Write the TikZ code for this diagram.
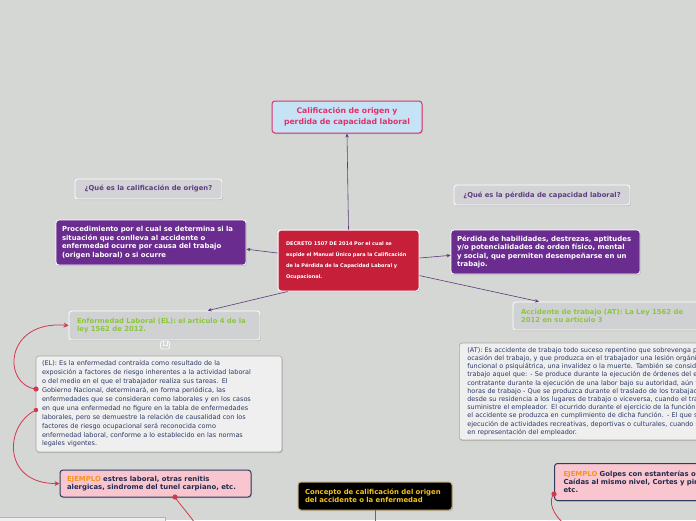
\documentclass[tikz,border=0pt]{standalone}
\usepackage{fontspec}
\setmainfont{DejaVu Sans}
\usetikzlibrary{shadows,arrows.meta}
\definecolor{bg}{RGB}{213,215,212}
\definecolor{qfill}{RGB}{211,211,215}
\definecolor{qtext}{RGB}{94,63,127}
\definecolor{purp}{RGB}{106,44,143}
\definecolor{decred}{RGB}{198,31,58}
\definecolor{tfill}{RGB}{198,226,245}
\definecolor{tpink}{RGB}{224,50,106}
\definecolor{lgreen}{RGB}{140,198,63}
\definecolor{lfill}{RGB}{208,209,211}
\definecolor{txfill}{RGB}{239,239,239}
\definecolor{txtext}{RGB}{43,58,103}
\definecolor{ejfill}{RGB}{249,198,208}
\definecolor{ejborder}{RGB}{47,60,94}
\definecolor{ejorange}{RGB}{247,148,29}
\definecolor{ejtext}{RGB}{31,43,77}
\definecolor{cborder}{RGB}{191,167,122}
\definecolor{cyellow}{RGB}{242,195,24}
\definecolor{redline}{RGB}{210,56,79}
\definecolor{purline}{RGB}{91,58,122}
\tikzset{
  box/.style={rounded corners=3pt, inner ysep=0pt, align=left,
    drop shadow={opacity=0.35, shadow xshift=0.8pt, shadow yshift=-1.2pt}},
  qbox/.style={box, fill=qfill, draw=white, line width=0.8pt, text=qtext, align=center,
    font=\bfseries\fontsize{6.8}{8}\selectfont},
  pbox/.style={box, fill=purp, draw=white, line width=0.8pt, text=white,
    font=\bfseries\fontsize{6.9}{8.7}\selectfont},
  lbox/.style={box, fill=lfill, draw=white, line width=0.8pt, text=lgreen,
    font=\bfseries\fontsize{6.9}{8.2}\selectfont},
  txbox/.style={box, fill=txfill, draw=gray!70, line width=0.6pt, text=txtext,
    font=\fontsize{6.5}{8.9}\selectfont},
  ejbox/.style={box, fill=ejfill, draw=ejborder, line width=1pt, text=ejtext,
    font=\bfseries\fontsize{6.9}{8.3}\selectfont},
  pconn/.style={draw=purline, line width=0.6pt, -{Stealth[length=4pt,width=3.5pt]}},
  rconn/.style={draw=redline, line width=0.8pt, -{Stealth[length=5pt,width=5pt]}},
  rplain/.style={draw=redline, line width=0.8pt},
  rdot/.style={fill=redline, draw=none},
}
\begin{document}
\begin{tikzpicture}[x=1pt,y=-1pt]
\clip (0,0) rectangle (696,520);
\fill[bg] (0,0) rectangle (696,520);

% bottom-left partial box
\draw[fill=txfill, draw=gray!60] (-5,517) rectangle (165,540);

% nodes
\node[box, fill=tfill, draw=tpink, line width=1pt, text=tpink, align=center,
  minimum width=150, minimum height=32, text width=140, inner xsep=5pt,
  font=\bfseries\fontsize{7.7}{11}\selectfont] (title) at (347,117)
  {Calificación de origen y\\ perdida de capacidad laboral};

\node[qbox, minimum width=147, minimum height=20] (q1) at (148.5,189)
  {¿Qué es la calificación de origen?};

\node[pbox, text width=178, inner xsep=6pt, minimum height=45] (p1) at (151,242.5)
  {Procedimiento por el cual se determina si la\\ situación que conlleva al accidente o\\ enfermedad ocurre por causa del trabajo\\ (origen laboral) o si ocurre};

\node[box, fill=decred, draw=white, line width=1pt, text=white, text width=125, inner xsep=8pt,
  minimum height=61, font=\bfseries\fontsize{5}{11.2}\selectfont] (dec) at (348.5,260.5)
  {DECRETO 1507 DE 2014 Por el cual se\\ expide el Manual Único para la Calificación\\ de la Pérdida de la Capacidad Laboral y\\ Ocupacional.};

\node[qbox, minimum width=176, minimum height=20] (q2) at (542,195)
  {¿Qué es la pérdida de capacidad laboral?};

\node[pbox, text width=177, inner xsep=6pt, minimum height=44, font=\bfseries\fontsize{6.9}{8.5}\selectfont] (p2) at (545.5,252)
  {Pérdida de habilidades, destrezas, aptitudes\\ y/o potencialidades de orden físico, mental\\ y social, que permiten desempeñarse en un\\ trabajo.};

\node[lbox, text width=175, inner xsep=8pt, minimum height=29] (el) at (164.5,325.5)
  {Enfermedad Laboral (EL): el artículo 4 de la\\ ley 1562 de 2012.};

\node[lbox, text width=184, inner xsep=8pt, minimum height=28] (at) at (613,316)
  {Accidente de trabajo (AT): La Ley 1562 de\\ 2012 en su artículo 3};

\node[txbox, text width=234, inner xsep=6pt, minimum height=96] (eltext) at (159,404)
  {(EL): Es la enfermedad contraída como resultado de la\\
   exposición a factores de riesgo inherentes a la actividad laboral\\
   o del medio en el que el trabajador realiza sus tareas. El\\
   Gobierno Nacional, determinará, en forma periódica, las\\
   enfermedades que se consideran como laborales y en los casos\\
   en que una enfermedad no figure en la tabla de enfermedades\\
   laborales, pero se demuestre la relación de causalidad con los\\
   factores de riesgo ocupacional será reconocida como\\
   enfermedad laboral, conforme a lo establecido en las normas\\
   legales vigentes.};

\node[txbox, text width=340, inner xsep=8pt, minimum height=97, anchor=west,
  font=\fontsize{6.5}{8.2}\selectfont] (attext) at (459,391.5)
  {(AT): Es accidente de trabajo todo suceso repentino que sobrevenga por causa o con\\
   ocasión del trabajo, y que produzca en el trabajador una lesión orgánica, una perturbación\\
   funcional o psiquiátrica, una invalidez o la muerte. También se considera accidente de\\
   trabajo aquel que: - Se produce durante la ejecución de órdenes del empleador, o\\
   contratante durante la ejecución de una labor bajo su autoridad, aún fuera del lugar y\\
   horas de trabajo - Que se produzca durante el traslado de los trabajadores o contratistas\\
   desde su residencia a los lugares de trabajo o viceversa, cuando el transporte lo\\
   suministre el empleador. El ocurrido durante el ejercicio de la función sindical aunque\\
   el accidente se produzca en cumplimiento de dicha función. - El que se produzca por la\\
   ejecución de actividades recreativas, deportivas o culturales, cuando se actúe por cuenta o\\
   en representación del empleador.};

\node[ejbox, text width=177, inner xsep=7pt, minimum height=27] (ej1) at (155.5,483.5)
  {\textcolor{ejorange}{EJEMPLO} estres laboral, otras renitis\\ alergicas, sindrome del tunel carpiano, etc.};

\node[box, fill=black, draw=cborder, line width=1pt, text=cyellow, text width=140, inner xsep=7pt,
  minimum height=28, font=\bfseries\fontsize{6.9}{8}\selectfont] (concept) at (375,496)
  {Concepto de calificación del origen\\ del accidente o la enfermedad};

\node[ejbox, text width=200, inner xsep=9pt, minimum height=37, anchor=west,
  font=\bfseries\fontsize{6.9}{8}\selectfont] (ej2) at (554,482)
  {\textcolor{ejorange}{EJEMPLO} Golpes con estanterías o\\ Caídas al mismo nivel, Cortes y pinchazos,\\ etc.};

% collapse icon under EL
\draw[white!92!gray, line width=0.8pt, rounded corners=1.5pt] (160.5,341) rectangle (169.5,349);
\draw[white!92!gray, line width=0.8pt] (163,341) -- (163,345) -- (167,345) -- (167,341);

% purple connectors
\draw[pconn] (dec.north) -- (title.south);
\draw[pconn] (dec.174.7) -- (p1.-4.5);
\draw[pconn] (dec.2) -- (p2.-178.8);
\draw[pconn] (dec.-153) -- (el.19.7);
\draw[pconn] (dec.-12.4) -- (at.169.1);

% red connectors
\coordinate (e1) at (36,389);
\coordinate (e2) at (36,410);
\coordinate (ej1b) at (175,497);
\coordinate (ej1end) at (196,525);
\coordinate (cb) at (375,510);
\coordinate (cend) at (375,525);
\coordinate (ej2l) at (554,494);
\coordinate (ej2end) at (566,525);
\draw[rconn] (e1) .. controls (2,385) and (4,320) .. (el.west);
\draw[rconn] (e2) .. controls (4,425) and (2,484) .. (ej1.west);
\draw[rplain] (ej1b) .. controls (180,505) and (190,515) .. (ej1end);
\draw[rplain] (cb) -- (cend);
\draw[rplain] (ej2l) .. controls (548,500) and (552,515) .. (ej2end);
\fill[rdot] (e1) circle (2.6);
\fill[rdot] (e2) circle (2.2);
\fill[rdot] (ej1b) circle (2.6);
\fill[rdot] (ej2l) circle (2.6);
\end{tikzpicture}
\end{document}
